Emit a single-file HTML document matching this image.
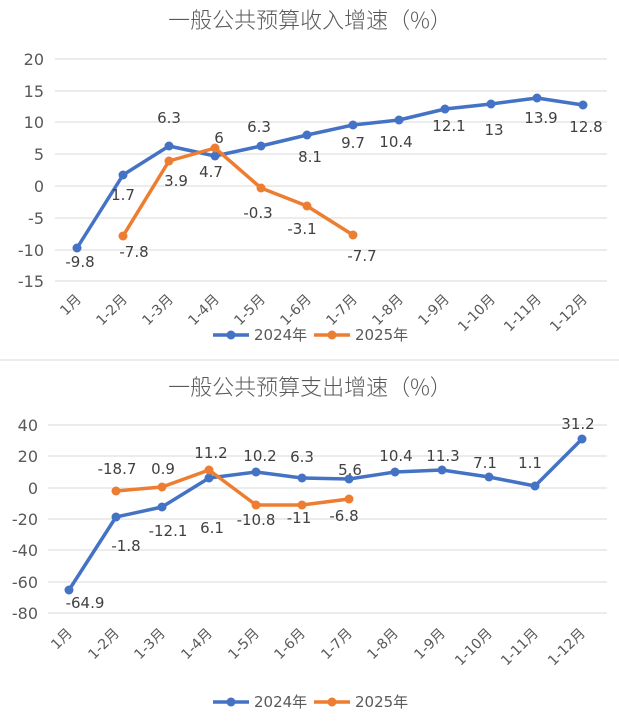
<!DOCTYPE html>
<html><head><meta charset="utf-8"><style>
body{margin:0;background:#fff}
svg{display:block;font-family:"DejaVu Sans","Noto Sans CJK SC",sans-serif}
.t{font-size:22px;fill:#595959;text-anchor:middle;font-family:"Noto Sans CJK SC",sans-serif;font-weight:300}
.y{font-size:16px;fill:#595959;text-anchor:end}
.x{font-size:14px;fill:#595959;text-anchor:end}
.d{font-size:15px;fill:#404040;text-anchor:middle}
.g{stroke:#d9d9d9;stroke-width:1}
.b{fill:none;stroke:#4472C4;stroke-width:3.5;stroke-linejoin:round}
.o{fill:none;stroke:#ED7D31;stroke-width:3.5;stroke-linejoin:round}
.l{font-size:15px;fill:#595959}
</style></head><body>
<svg width="619" height="725" viewBox="0 0 619 725">
<text class="t" x="310" y="28">一般公共预算收入增速（%）</text>
<g class="g">
<line x1="55" x2="607" y1="59" y2="59"/><line x1="55" x2="607" y1="91" y2="91"/><line x1="55" x2="607" y1="122" y2="122"/><line x1="55" x2="607" y1="154" y2="154"/><line x1="55" x2="607" y1="186" y2="186"/><line x1="55" x2="607" y1="218" y2="218"/><line x1="55" x2="607" y1="250" y2="250"/><line x1="55" x2="607" y1="281" y2="281"/>
</g>
<g class="y">
<text x="44" y="65">20</text><text x="44" y="97">15</text><text x="44" y="128">10</text><text x="44" y="160">5</text><text x="44" y="192">0</text><text x="44" y="224">-5</text><text x="44" y="256">-10</text><text x="44" y="287">-15</text>
</g>
<g class="x">
<text transform="translate(82,300) rotate(-45)">1月</text>
<text transform="translate(128,300) rotate(-45)">1-2月</text>
<text transform="translate(174,300) rotate(-45)">1-3月</text>
<text transform="translate(220,300) rotate(-45)">1-4月</text>
<text transform="translate(266,300) rotate(-45)">1-5月</text>
<text transform="translate(312,300) rotate(-45)">1-6月</text>
<text transform="translate(358,300) rotate(-45)">1-7月</text>
<text transform="translate(404,300) rotate(-45)">1-8月</text>
<text transform="translate(450,300) rotate(-45)">1-9月</text>
<text transform="translate(496,300) rotate(-45)">1-10月</text>
<text transform="translate(542,300) rotate(-45)">1-11月</text>
<text transform="translate(588,300) rotate(-45)">1-12月</text>
</g>
<polyline class="b" points="77,248 123,175 169,146 215,156 261,146 307,135 353,125 399,120 445,109 491,104 537,98 583,105"/>
<g fill="#4472C4"><circle cx="77" cy="248" r="4.5"/><circle cx="123" cy="175" r="4.5"/><circle cx="169" cy="146" r="4.5"/><circle cx="215" cy="156" r="4.5"/><circle cx="261" cy="146" r="4.5"/><circle cx="307" cy="135" r="4.5"/><circle cx="353" cy="125" r="4.5"/><circle cx="399" cy="120" r="4.5"/><circle cx="445" cy="109" r="4.5"/><circle cx="491" cy="104" r="4.5"/><circle cx="537" cy="98" r="4.5"/><circle cx="583" cy="105" r="4.5"/></g>
<polyline class="o" points="123,236 169,161 215,148 261,188 307,206 353,235"/>
<g fill="#ED7D31"><circle cx="123" cy="236" r="4.5"/><circle cx="169" cy="161" r="4.5"/><circle cx="215" cy="148" r="4.5"/><circle cx="261" cy="188" r="4.5"/><circle cx="307" cy="206" r="4.5"/><circle cx="353" cy="235" r="4.5"/></g>
<g class="d">
<text x="80" y="267">-9.8</text><text x="123" y="200">1.7</text><text x="169" y="123">6.3</text><text x="211" y="177">4.7</text><text x="259" y="132">6.3</text><text x="310" y="162">8.1</text><text x="353" y="148">9.7</text><text x="396" y="147">10.4</text><text x="449" y="131">12.1</text><text x="494" y="135">13</text><text x="541" y="123">13.9</text><text x="586" y="132">12.8</text>
<text x="134" y="257">-7.8</text><text x="176" y="186">3.9</text><text x="219" y="143">6</text><text x="258" y="218">-0.3</text><text x="302" y="234">-3.1</text><text x="362" y="261">-7.7</text>
</g>
<line x1="213" x2="249" y1="335" y2="335" stroke="#4472C4" stroke-width="3.5"/><circle cx="231" cy="335" r="4.5" fill="#4472C4"/>
<text class="l" x="254" y="340">2024年</text>
<line x1="314" x2="350" y1="335" y2="335" stroke="#ED7D31" stroke-width="3.5"/><circle cx="332" cy="335" r="4.5" fill="#ED7D31"/>
<text class="l" x="355" y="340">2025年</text>
<line x1="0" x2="619" y1="360" y2="360" stroke="#d9d9d9"/>

<text class="t" x="310" y="395">一般公共预算支出增速（%）</text>
<g class="g">
<line x1="48" x2="607" y1="425" y2="425"/><line x1="48" x2="607" y1="456" y2="456"/><line x1="48" x2="607" y1="488" y2="488"/><line x1="48" x2="607" y1="519" y2="519"/><line x1="48" x2="607" y1="550" y2="550"/><line x1="48" x2="607" y1="582" y2="582"/><line x1="48" x2="607" y1="613" y2="613"/>
</g>
<g class="y">
<text x="38" y="431">40</text><text x="38" y="462">20</text><text x="38" y="494">0</text><text x="38" y="525">-20</text><text x="38" y="556">-40</text><text x="38" y="588">-60</text><text x="38" y="619">-80</text>
</g>
<g class="x">
<text transform="translate(73,634) rotate(-45)">1月</text>
<text transform="translate(120,634) rotate(-45)">1-2月</text>
<text transform="translate(166,634) rotate(-45)">1-3月</text>
<text transform="translate(213,634) rotate(-45)">1-4月</text>
<text transform="translate(260,634) rotate(-45)">1-5月</text>
<text transform="translate(306,634) rotate(-45)">1-6月</text>
<text transform="translate(353,634) rotate(-45)">1-7月</text>
<text transform="translate(399,634) rotate(-45)">1-8月</text>
<text transform="translate(446,634) rotate(-45)">1-9月</text>
<text transform="translate(493,634) rotate(-45)">1-10月</text>
<text transform="translate(539,634) rotate(-45)">1-11月</text>
<text transform="translate(586,634) rotate(-45)">1-12月</text>
</g>
<polyline class="b" points="69,590 116,517 162,507 209,478 256,472 302,478 349,479 395,472 442,470 489,477 535,486 582,439"/>
<g fill="#4472C4"><circle cx="69" cy="590" r="4.5"/><circle cx="116" cy="517" r="4.5"/><circle cx="162" cy="507" r="4.5"/><circle cx="209" cy="478" r="4.5"/><circle cx="256" cy="472" r="4.5"/><circle cx="302" cy="478" r="4.5"/><circle cx="349" cy="479" r="4.5"/><circle cx="395" cy="472" r="4.5"/><circle cx="442" cy="470" r="4.5"/><circle cx="489" cy="477" r="4.5"/><circle cx="535" cy="486" r="4.5"/><circle cx="582" cy="439" r="4.5"/></g>
<polyline class="o" points="116,491 162,487 209,470 256,505 302,505 349,499"/>
<g fill="#ED7D31"><circle cx="116" cy="491" r="4.5"/><circle cx="162" cy="487" r="4.5"/><circle cx="209" cy="470" r="4.5"/><circle cx="256" cy="505" r="4.5"/><circle cx="302" cy="505" r="4.5"/><circle cx="349" cy="499" r="4.5"/></g>
<g class="d">
<text x="85" y="608">-64.9</text><text x="117" y="474">-18.7</text><text x="126" y="551">-1.8</text><text x="168" y="536">-12.1</text><text x="163" y="474">0.9</text><text x="212" y="533">6.1</text><text x="211" y="458">11.2</text><text x="260" y="461">10.2</text><text x="256" y="525">-10.8</text><text x="302" y="462">6.3</text><text x="299" y="523">-11</text><text x="350" y="475">5.6</text><text x="344" y="521">-6.8</text><text x="396" y="461">10.4</text><text x="443" y="461">11.3</text><text x="485" y="468">7.1</text><text x="530" y="468">1.1</text><text x="578" y="429">31.2</text>
</g>
<line x1="213" x2="249" y1="702" y2="702" stroke="#4472C4" stroke-width="3.5"/><circle cx="231" cy="702" r="4.5" fill="#4472C4"/>
<text class="l" x="254" y="707">2024年</text>
<line x1="314" x2="350" y1="702" y2="702" stroke="#ED7D31" stroke-width="3.5"/><circle cx="332" cy="702" r="4.5" fill="#ED7D31"/>
<text class="l" x="355" y="707">2025年</text>
</svg>
</body></html>
